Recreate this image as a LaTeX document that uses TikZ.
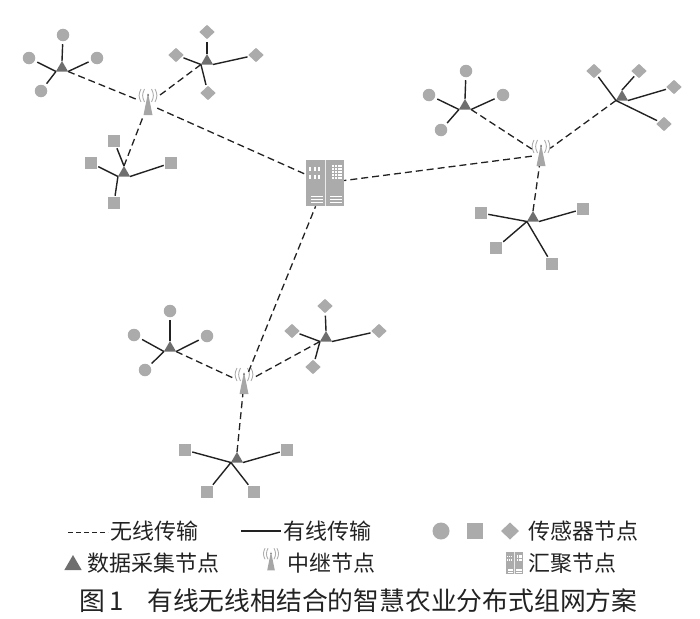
\documentclass[tikz,border=0pt]{standalone}
\usepackage{fontspec}
\newfontfamily\cjk{Noto Sans CJK SC}
\usetikzlibrary{shapes.geometric}
\definecolor{ink}{HTML}{222222}
\definecolor{sensor}{HTML}{ABABAB}
\definecolor{collect}{HTML}{6E6E6E}
\definecolor{mastgray}{HTML}{A6A6A6}
\definecolor{ringgray}{HTML}{ADADAD}

\tikzset{
  wire/.style={draw=ink, line width=1.4pt},
  air/.style={draw=ink, line width=1.3pt, dash pattern=on 7pt off 4pt},
  circ/.style={circle, fill=sensor, minimum size=12.5pt, inner sep=0pt, outer sep=3pt},
  sq/.style={rectangle, fill=sensor, minimum size=11.5pt, inner sep=0pt, outer sep=1.5pt},
  dia/.style={diamond, fill=sensor, minimum width=17pt, minimum height=16pt, inner sep=0pt, outer sep=2pt},
  tri/.style={regular polygon, regular polygon sides=3, fill=collect, minimum size=14pt, inner sep=0pt, outer sep=0pt},
  relaybox/.style={rectangle, minimum width=18pt, minimum height=22pt, inner sep=0pt},
  hubbox/.style={rectangle, fill=sensor, minimum width=38pt, minimum height=46pt, inner sep=0pt},
  legend/.style={font=\cjk\fontsize{22}{24}\selectfont, text=ink, anchor=west, inner sep=0pt},
  caption/.style={font=\cjk\fontsize{25.8}{28}\selectfont, text=ink, anchor=west, inner sep=0pt},
  relayicon/.pic={
    \fill[mastgray] (0,-11) -- (4.5,11) -- (-4.5,11) -- cycle;
    \fill[collect] (0,-9) circle (1pt);
    \foreach \r in {3.5,7} {
      \draw[ringgray, line width=.9pt] (-\r,-15) .. controls (-\r-2.5,-10) and (-\r-2.5,-7) .. (-\r,-2);
      \draw[ringgray, line width=.9pt] (\r,-15) .. controls (\r+2.5,-10) and (\r+2.5,-7) .. (\r,-2);
    }
  },
  hubmarks/.pic={
    \fill[white!75!sensor] (-.5,-23) rectangle (.5,23);
    % vents at the foot of both cabinets
    \foreach \s in {-13,5.5} \foreach \v in {13,16,19}
      \fill[white] (\s-1,\v) rectangle (\s+11,\v+1);
    % left cabinet: two rows of slots
    \foreach \u in {-15,-10.5,-6} \foreach \v in {-14,-6.5}
      \fill[white] (\u-1,\v-2) rectangle (\u+1,\v+2);
    % right cabinet: keypad
    \foreach \u in {7,9.8,12.6,15.4} \foreach \v in {-18,-15,-12,-9,-6}
      \fill[white] (\u,\v) rectangle (\u+1.9,\v+2);
  },
}

\begin{document}
\begin{tikzpicture}[x=1pt, y=-1pt]
  \useasboundingbox (0,0) rectangle (700,618);

  % Hub and the three relays.
  \node[hubbox] (hub) at (325,183) {};
  \pic at (hub) {hubmarks};
  \foreach \n/\px/\py in {r1/148/104, r2/541/155, r3/244/383} {
    \node[relaybox] (\n) at (\px,\py) {};
    \pic at (\n) {relayicon};
  }

  % Collection nodes.
  \foreach \n/\px/\py in {t1/62/68, t2/207/61, t3/124/173, t4/465/106, t5/622/97,
                          t6/533/218, t7/170/348, t8/326/338, t9/237/459}
    \node[tri] (\n) at (\px,\py) {};

  % Sensors: name/position/corner of the collection node.
  \foreach \n/\px/\py/\c in {a1/63/35/1, a2/29/58/2, a3/97/58/3, a4/41/91/2} {
    \node[circ] (\n) at (\px,\py) {};
    \draw[wire] (\n) -- (t1.corner \c);
  }
  \foreach \n/\px/\py/\c in {b1/207/32/1, b2/176/55/2, b3/256/55/3, b4/208/93/2} {
    \node[dia] (\n) at (\px,\py) {};
    \draw[wire] (\n) -- (t2.corner \c);
  }
  \foreach \n/\px/\py/\c in {c1/114/141/1, c2/91/163/2, c3/171/163/3, c4/114/203/2} {
    \node[sq] (\n) at (\px,\py) {};
    \draw[wire] (\n) -- (t3.corner \c);
  }
  \foreach \n/\px/\py/\c in {d1/466/71/1, d2/429/95/2, d3/503/95/3, d4/441/130/2} {
    \node[circ] (\n) at (\px,\py) {};
    \draw[wire] (\n) -- (t4.corner \c);
  }
  \foreach \n/\px/\py/\c in {e1/594/71/2, e2/639/71/1, e3/674/87/3, e4/664/124/2} {
    \node[dia] (\n) at (\px,\py) {};
    \draw[wire] (\n) -- (t5.corner \c);
  }
  \foreach \n/\px/\py/\c in {f1/481/213/2, f2/583/209/3, f3/496/248/2, f4/552/264/2} {
    \node[sq] (\n) at (\px,\py) {};
    \draw[wire] (\n) -- (t6.corner \c);
  }
  \foreach \n/\px/\py/\c in {g1/170/311/1, g2/134/335/2, g3/207/336/3, g4/145/370/2} {
    \node[circ] (\n) at (\px,\py) {};
    \draw[wire] (\n) -- (t7.corner \c);
  }
  \foreach \n/\px/\py/\c in {h1/325/306/1, h2/292/331/2, h3/379/331/3, h4/313/367/2} {
    \node[dia] (\n) at (\px,\py) {};
    \draw[wire] (\n) -- (t8.corner \c);
  }
  \foreach \n/\px/\py/\c in {i1/185/450/2, i2/287/450/3, i3/207/492/2, i4/254/492/2} {
    \node[sq] (\n) at (\px,\py) {};
    \draw[wire] (\n) -- (t9.corner \c);
  }

  % Wireless links.
  \draw[air] (t1.corner 3) -- (r1);
  \draw[air] (t2.corner 2) -- (r1);
  \draw[air] (t3.corner 1) -- (r1);
  \draw[air] (t4.corner 3) -- (r2);
  \draw[air] (t5.corner 2) -- (r2);
  \draw[air] (t6.corner 1) -- (r2);
  \draw[air] (t7.corner 3) -- (r3);
  \draw[air] (t8.corner 2) -- (r3);
  \draw[air] (t9.corner 1) -- (r3);
  \draw[air] (r1) -- (hub);
  \draw[air] (r2) -- (hub);
  \draw[air] (r3) -- (hub);

  % Legend.
  \coordinate (airl) at (68,532);
  \coordinate (airr) at (108,532);
  \coordinate (wirel) at (241,531);
  \coordinate (wirer) at (281,531);
  \draw[air, line width=1pt, dash pattern=on 5pt off 3pt] (airl) -- (airr);
  \draw[wire, line width=1.1pt] (wirel) -- (wirer);
  \node[legend] (lair) at (110,531) {无线传输};
  \node[legend] (lwire) at (283,531) {有线传输};
  \node[circ, minimum size=17pt, outer sep=0pt] (kc) at (441,531) {};
  \node[sq, minimum size=16pt, outer sep=0pt] (ks) at (475,531) {};
  \node[dia, minimum width=18pt, minimum height=17pt, outer sep=0pt] (kd) at (510,531) {};
  \node[legend] (lsensor) at (528,531) {传感器节点};
  \node[tri, minimum size=20pt] (kt) at (73,565) {};
  \node[legend] (lcollect) at (87,563) {数据采集节点};
  \node[relaybox] (kr) at (271,561) {};
  \pic[scale=.85] at (kr) {relayicon};
  \node[legend] (lrelay) at (287,563) {中继节点};
  \node[hubbox, minimum width=17pt, minimum height=22pt] (kh) at (514,563) {};
  \pic[scale=.46] at (kh) {hubmarks};
  \node[legend] (lhub) at (528,563) {汇聚节点};

  % Caption.
  \node[caption] (fig) at (79,601) {图\,1};
  \node[caption] (cap) at (147,601) {有线无线相结合的智慧农业分布式组网方案};
\end{tikzpicture}
\end{document}
